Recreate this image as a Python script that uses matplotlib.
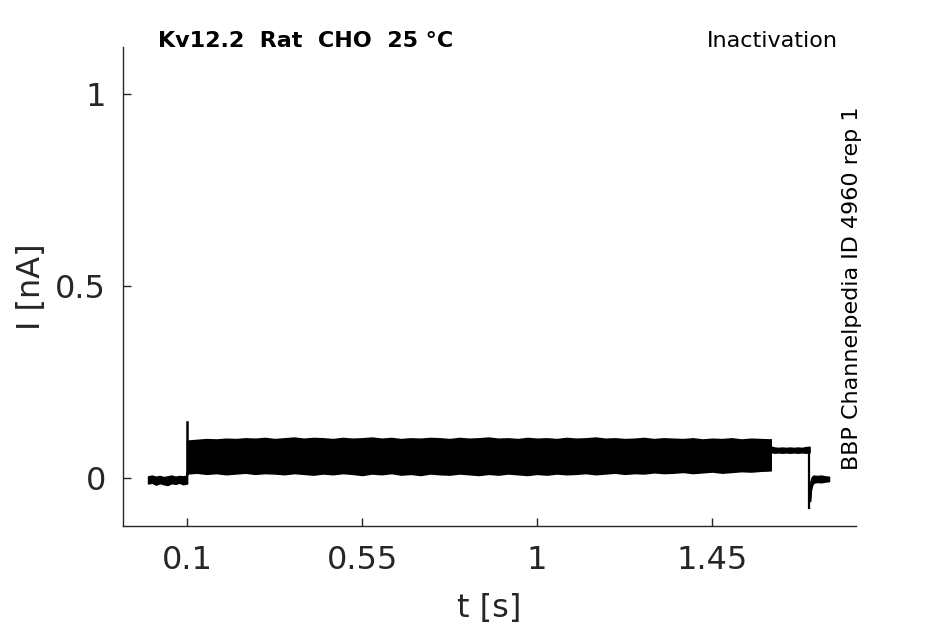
import numpy as np
import matplotlib
matplotlib.use("Agg")
import matplotlib.pyplot as plt

# ---- data ----
x_ticks = [0.1, 0.55, 1.0, 1.45]
x_ticklabels = ["0.1", "0.55", "1", "1.45"]
y_ticks = [0.0, 0.5, 1.0]
y_ticklabels = ["0", "0.5", "1"]

# holding period before the step (nA)
t_pre = [0.0, 0.01, 0.02, 0.03, 0.04, 0.05, 0.06, 0.07, 0.08, 0.09, 0.1]
pre_upper = [0.004, 0.006, 0.003, 0.005, 0.002, 0.004, 0.006, 0.003, 0.005, 0.004, 0.006]
pre_lower = [-0.014, -0.012, -0.017, -0.013, -0.016, -0.018, -0.013, -0.015, -0.012, -0.016, -0.014]

# envelope of the sweeps during the step 0.1 s .. 1.6 s
step_upper = [0.097, 0.099, 0.101, 0.100, 0.102, 0.101, 0.103, 0.102, 0.104, 0.101,
              0.103, 0.105, 0.102, 0.104, 0.103, 0.101, 0.104, 0.102, 0.103, 0.105,
              0.102, 0.104, 0.101, 0.103, 0.102, 0.104, 0.103, 0.101, 0.104, 0.102,
              0.103, 0.105, 0.102, 0.103, 0.101, 0.104, 0.102, 0.103, 0.101, 0.104,
              0.102, 0.103, 0.105, 0.102, 0.103, 0.101, 0.102, 0.104, 0.101, 0.103,
              0.102, 0.101, 0.103, 0.100, 0.102, 0.101, 0.103, 0.100, 0.102, 0.101,
              0.100]
step_lower = [0.012, 0.014, 0.011, 0.013, 0.010, 0.012, 0.014, 0.011, 0.013, 0.012,
              0.010, 0.013, 0.011, 0.009, 0.012, 0.010, 0.013, 0.011, 0.008, 0.012,
              0.010, 0.013, 0.009, 0.011, 0.008, 0.012, 0.010, 0.009, 0.012, 0.010,
              0.008, 0.011, 0.009, 0.012, 0.010, 0.008, 0.011, 0.009, 0.012, 0.010,
              0.011, 0.013, 0.010, 0.012, 0.014, 0.011, 0.013, 0.012, 0.015, 0.013,
              0.014, 0.016, 0.013, 0.015, 0.017, 0.014, 0.016, 0.018, 0.017, 0.019,
              0.020]
step_start, step_end = 0.1, 1.6

# second step 1.6 .. 1.70 s
t_post = [1.6, 1.61, 1.62, 1.63, 1.64, 1.65, 1.66, 1.67, 1.68, 1.69, 1.70]
post_upper = [0.082, 0.079, 0.078, 0.079, 0.078, 0.079, 0.078, 0.079, 0.078, 0.080, 0.081]
post_lower = [0.068, 0.066, 0.067, 0.066, 0.067, 0.066, 0.067, 0.066, 0.067, 0.066, 0.067]

# tail current after the return to holding
t_tail = [1.701, 1.703, 1.706, 1.71, 1.72, 1.73, 1.74, 1.75]
tail_upper = [-0.025, -0.008, 0.002, 0.006, 0.005, 0.006, 0.004, 0.003]
tail_lower = [-0.060, -0.035, -0.020, -0.012, -0.010, -0.011, -0.009, -0.008]

# transient spikes (time, from, to)
spike_on = (0.1, 0.01, 0.147)
spike_off = (1.70, 0.07, -0.078)

# ---- figure ----
fig = plt.figure(figsize=(9.45, 6.24), dpi=100)
ax = fig.add_axes([0.130, 0.157, 0.776, 0.768])

tc = "black"
kw = dict(color=tc, lw=1.2, zorder=3)
ax.fill_between(t_pre, pre_lower, pre_upper, facecolor=tc, edgecolor=tc, lw=1.2, zorder=3)
t_step = np.linspace(step_start, step_end, len(step_upper))
ax.fill_between(t_step, step_lower, step_upper, facecolor=tc, edgecolor=tc, lw=1.2, zorder=3)
ax.fill_between(t_post, post_lower, post_upper, facecolor=tc, edgecolor=tc, lw=1.2, zorder=3)
ax.fill_between(t_tail, tail_lower, tail_upper, facecolor=tc, edgecolor=tc, lw=1.2, zorder=3)
ax.plot([step_start, step_start], [pre_upper[-1], step_lower[0]], **kw)
ax.plot([step_end, step_end], [step_lower[-1], step_upper[-1]], **kw)
ax.plot([spike_on[0], spike_on[0]], [spike_on[1], spike_on[2]], color=tc, lw=1.8, zorder=4)
ax.plot([spike_off[0], spike_off[0]], [spike_off[1], spike_off[2]], color=tc, lw=1.6, zorder=4)

ax.set_xlim(-0.065, 1.82)
ax.set_ylim(-0.125, 1.122)
ax.set_xticks(x_ticks)
ax.set_xticklabels(x_ticklabels)
ax.set_yticks(y_ticks)
ax.set_yticklabels(y_ticklabels)

gray = "#262626"
for s in ["top", "right"]:
    ax.spines[s].set_visible(False)
for s in ["left", "bottom"]:
    ax.spines[s].set_color(gray)
    ax.spines[s].set_linewidth(1.0)
ax.tick_params(direction="in", length=6, width=1.0, colors=gray, labelsize=23, pad=12)
ax.tick_params(axis="x", pad=14)
ax.set_xlabel("t [s]", fontsize=23, color=gray, labelpad=12)
ax.set_ylabel("I [nA]", fontsize=23, color=gray, labelpad=6)

ax.text(0.0477, 1.0, "Kv12.2  Rat  CHO  25 °C", transform=ax.transAxes,
        fontsize=16, fontweight="bold", ha="left", va="baseline", color="black")
ax.text(0.9755, 1.0, "Inactivation", transform=ax.transAxes,
        fontsize=16, ha="right", va="baseline", color="black")
ax.text(1.008, 0.497, "BBP Channelpedia ID 4960 rep 1", transform=ax.transAxes,
        fontsize=16, rotation=90, ha="right", va="center", color="black")

fig.savefig("out.png", dpi=100)
